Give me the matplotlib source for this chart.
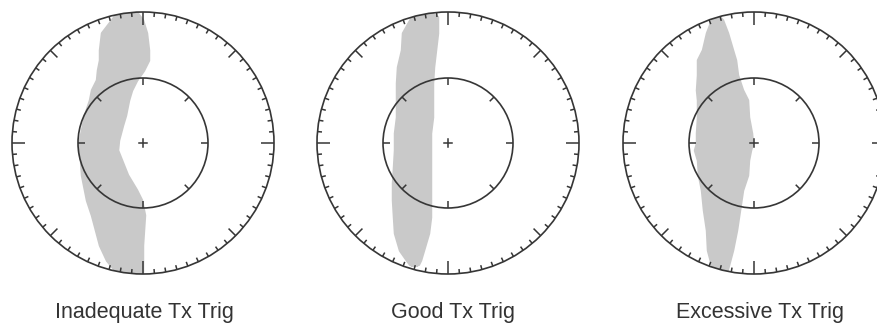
import numpy as np
import matplotlib
matplotlib.use("Agg")
import matplotlib.pyplot as plt
from matplotlib.patches import Circle

# ---- data (pixel offsets from each dial centre; y positive = downward) ----
labels = ["Inadequate Tx Trig", "Good Tx Trig", "Excessive Tx Trig"]

inadequate_y = [-131, -123, -110, -93, -83, -73, -63, -53, -43, -28, -18, -3, 7, 17, 32, 47, 57, 72, 87, 102, 117, 129, 134]
inadequate_left = [-25, -31, -41, -43, -43, -45, -46, -51, -53, -58, -60, -63, -64, -62, -61, -58, -56, -51, -47, -43, -36, -26, -18]
inadequate_right = [-7, -1, 3, 5, 5, 0, -7, -12, -15, -18, -21, -25, -26, -22, -16, -7, -2, 1, 0, -1, -1, -1, -5]

good_y = [-128, -126, -110, -93, -76, -60, -43, -26, -10, 7, 24, 40, 57, 74, 90, 107, 117, 121]
good_left = [-33, -36, -45, -46, -50, -51, -51, -51, -53, -53, -54, -55, -55, -54, -53, -48, -41, -38]
good_right = [-14, -11, -11, -13, -15, -16, -16, -16, -18, -18, -18, -18, -18, -18, -20, -25, -28, -30]

excessive_y = [-125, -123, -110, -93, -83, -68, -53, -43, -26, -10, 0, 7, 17, 32, 47, 67, 87, 107, 122, 133]
excessive_left = [-40, -42, -47, -51, -56, -56, -57, -56, -56, -57, -57, -59, -56, -55, -52, -50, -47, -46, -42, -41]
excessive_right = [-34, -32, -27, -22, -19, -17, -12, -7, -6, -3, -2, -4, -6, -7, -12, -15, -18, -22, -26, -29]

blobs = [
    (inadequate_y, inadequate_left, inadequate_right),
    (good_y, good_left, good_right),
    (excessive_y, excessive_left, excessive_right),
]

# ---- layout ----
W, H = 877, 325
centers_x = [143, 448, 754]
label_x = [144, 453, 760]
center_y = 143
R_OUT = 131
R_IN = 65
LINE = "#363636"
BLOB = "#c9c9c9"

fig = plt.figure(figsize=(W / 100, H / 100), dpi=100)
ax = fig.add_axes([0, 0, 1, 1])
ax.set_xlim(0, W)
ax.set_ylim(H, 0)
ax.set_aspect("equal")
ax.axis("off")

for cx, lx, (by, bl, br), lab in zip(centers_x, label_x, blobs, labels):
    by = np.asarray(by, float)
    bl = np.asarray(bl, float)
    br = np.asarray(br, float)
    clip = Circle((cx, center_y), R_OUT, transform=ax.transData)
    poly = ax.fill_betweenx(by + center_y, bl + cx, br + cx, color=BLOB,
                            lw=2.5, edgecolor=BLOB, zorder=1)
    poly.set_clip_path(clip)

    ax.add_patch(Circle((cx, center_y), R_OUT, fill=False, ec=LINE, lw=1.2, zorder=3))
    ax.add_patch(Circle((cx, center_y), R_IN, fill=False, ec=LINE, lw=1.2, zorder=3))

    for a in range(0, 360, 5):
        if a % 90 == 0:
            L = 13
        elif a % 45 == 0:
            L = 10
        else:
            L = 4.5
        t = np.deg2rad(a)
        ax.plot([cx + R_OUT * np.cos(t), cx + (R_OUT - L) * np.cos(t)],
                [center_y + R_OUT * np.sin(t), center_y + (R_OUT - L) * np.sin(t)],
                color=LINE, lw=1.1, zorder=3, solid_capstyle="butt")
    for a in range(0, 360, 45):
        L = 7 if a % 90 == 0 else 6
        t = np.deg2rad(a)
        ax.plot([cx + R_IN * np.cos(t), cx + (R_IN - L) * np.cos(t)],
                [center_y + R_IN * np.sin(t), center_y + (R_IN - L) * np.sin(t)],
                color=LINE, lw=1.1, zorder=3, solid_capstyle="butt")
    ax.plot([cx - 4, cx + 4], [center_y, center_y], color=LINE, lw=1.1, zorder=3)
    ax.plot([cx, cx], [center_y - 4, center_y + 4], color=LINE, lw=1.1, zorder=3)

    ax.text(lx, 318, lab, ha="center", va="baseline", fontsize=15.5,
            color="#333333", family=["Liberation Sans", "DejaVu Sans"])

fig.savefig("out.png", dpi=100)
